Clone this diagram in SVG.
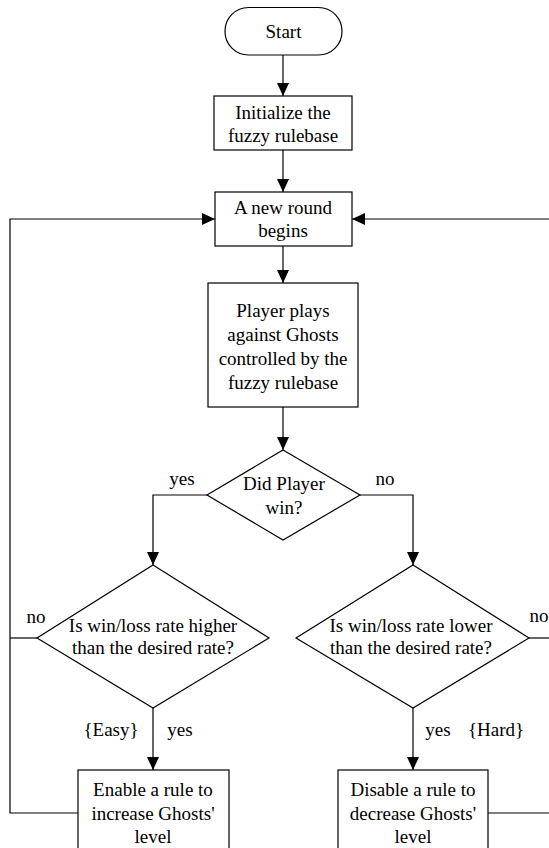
<svg xmlns="http://www.w3.org/2000/svg" width="549" height="848" viewBox="0 0 549 848">
<style>
.n{fill:#fff;stroke:#000;stroke-width:1.2}
.c{fill:none;stroke:#000;stroke-width:1.2}
text{font-family:"Liberation Serif","Times New Roman",serif;font-size:19px;fill:#000}
.m{text-anchor:middle}
</style>
<defs>
<marker id="ah" markerUnits="userSpaceOnUse" markerWidth="14" markerHeight="14" viewBox="0 0 14 14" refX="13" refY="7" orient="auto">
<path d="M0,1 L13,7 L0,13 Z" fill="#000"/>
</marker>
</defs>
<rect width="549" height="848" fill="#fff"/>
<g id="connectors">
<line class="c" x1="283" y1="55" x2="283" y2="96" marker-end="url(#ah)"/>
<line class="c" x1="283" y1="150" x2="283" y2="192" marker-end="url(#ah)"/>
<line class="c" x1="283" y1="246" x2="283" y2="283" marker-end="url(#ah)"/>
<line class="c" x1="283" y1="407" x2="283" y2="450" marker-end="url(#ah)"/>
<polyline class="c" points="207,495 153,495 153,565" marker-end="url(#ah)"/>
<polyline class="c" points="360,495 413,495 413,565" marker-end="url(#ah)"/>
<line class="c" x1="153" y1="708" x2="153" y2="770" marker-end="url(#ah)"/>
<line class="c" x1="413" y1="708" x2="413" y2="770" marker-end="url(#ah)"/>
<line class="c" x1="37" y1="638" x2="10" y2="638"/>
<polyline class="c" points="78,813 10,813 10,219 215,219" marker-end="url(#ah)"/>
<line class="c" x1="529" y1="638" x2="549" y2="638"/>
<line class="c" x1="488" y1="813" x2="549" y2="813"/>
<line class="c" x1="549" y1="219" x2="352" y2="219" marker-end="url(#ah)"/>
</g>
<g id="start">
<rect class="n" x="225" y="7.5" width="117" height="47.5" rx="23.5"/>
<text class="m" x="283.5" y="38">Start</text>
</g>
<g id="init">
<rect class="n" x="214" y="96" width="138" height="54"/>
<text class="m" x="283" y="119">Initialize the</text>
<text class="m" x="283" y="142">fuzzy rulebase</text>
</g>
<g id="round">
<rect class="n" x="215" y="192" width="137" height="54"/>
<text class="m" x="283" y="214">A new round</text>
<text class="m" x="283" y="237">begins</text>
</g>
<g id="play">
<rect class="n" x="208" y="283" width="150" height="124"/>
<text class="m" x="283" y="317">Player plays</text>
<text class="m" x="283" y="341">against Ghosts</text>
<text class="m" x="283" y="365">controlled by the</text>
<text class="m" x="283" y="389">fuzzy rulebase</text>
</g>
<g id="didwin">
<polygon class="n" points="283,450 360,495 283,540 207,495"/>
<text class="m" x="284" y="490">Did Player</text>
<text class="m" x="284" y="514">win?</text>
<text class="m" x="182" y="485">yes</text>
<text class="m" x="385" y="485">no</text>
</g>
<g id="higher">
<polygon class="n" points="153,565 269,638 153,708 37,638"/>
<text class="m" x="153" y="632">Is win/loss rate higher</text>
<text class="m" x="153" y="654">than the desired rate?</text>
<text class="m" x="36" y="623">no</text>
<text class="m" x="111" y="736">{Easy}</text>
<text class="m" x="180" y="736">yes</text>
</g>
<g id="lower">
<polygon class="n" points="413,565 529,638 413,708 296,638"/>
<text class="m" x="411" y="632">Is win/loss rate lower</text>
<text class="m" x="411" y="654">than the desired rate?</text>
<text class="m" x="539" y="622">no</text>
<text class="m" x="438" y="736">yes</text>
<text class="m" x="496" y="736">{Hard}</text>
</g>
<g id="enable">
<rect class="n" x="78" y="770" width="151" height="90"/>
<text class="m" x="153" y="796">Enable a rule to</text>
<text class="m" x="153" y="820">increase Ghosts'</text>
<text class="m" x="153" y="843">level</text>
</g>
<g id="disable">
<rect class="n" x="338" y="770" width="150" height="90"/>
<text class="m" x="413" y="796">Disable a rule to</text>
<text class="m" x="413" y="820">decrease Ghosts'</text>
<text class="m" x="413" y="843">level</text>
</g>
</svg>
